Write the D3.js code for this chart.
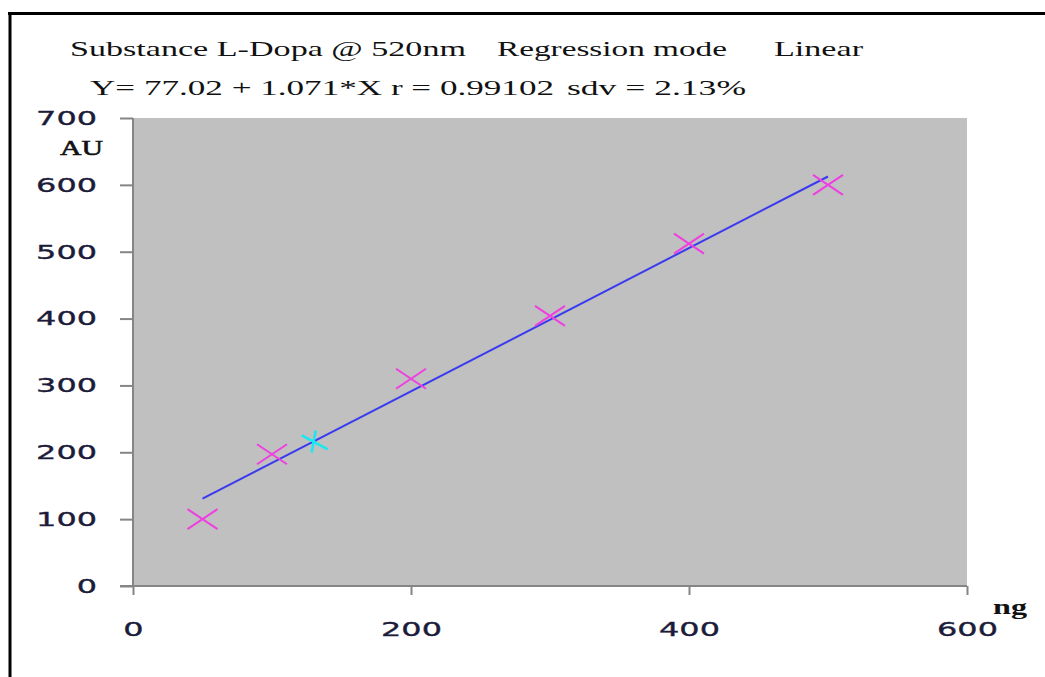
<!DOCTYPE html>
<html>
<head>
<meta charset="utf-8">
<script src="https://cdn.jsdelivr.net/npm/d3@7/dist/d3.min.js"></script>
<style>
  html, body { margin: 0; padding: 0; background: #fff; }
  svg { display: block; }
  .serif { font-family: "Liberation Serif", "DejaVu Serif", serif; fill: #111; }
  .tick text { font-family: "DejaVu Sans", Verdana, sans-serif; fill: #1c1c3a; stroke: #1c1c3a; stroke-width: 0.35; }
</style>
</head>
<body>
<svg id="chart" width="1045" height="677"></svg>
<script>
// Calibration standards: amount (ng) and response (AU)
const standardAmounts = [50, 100, 200, 300, 400, 500];
const standardResponses = [100, 197, 310, 404, 512, 600];

// Unknown sample read back through the calibration line
const sampleAmounts = [130];
const sampleResponses = [216.25];

// Linear regression reported in the header
const intercept = 77.02;
const slope = 1.071;
const fitRange = [50, 500];

const xTicks = [0, 200, 400, 600];
const yTicks = [0, 100, 200, 300, 400, 500, 600, 700];

const titleLine1 = ["Substance L-Dopa @ 520nm", "Regression mode", "Linear"];
const titleLine2 = ["Y= 77.02 + 1.071*X r = 0.99102", "sdv = 2.13%"];

const svg = d3.select("#chart");

const plot = { left: 133, right: 967, top: 118, bottom: 586 };

const x = d3.scaleLinear().domain([0, 600]).range([plot.left, plot.right]);
const y = d3.scaleLinear().domain([0, 700]).range([plot.bottom, plot.top]);

// outer frame (top and left edges)
svg.append("line").attr("x1", 8).attr("x2", 1045).attr("y1", 13.5).attr("y2", 13.5)
  .attr("stroke", "#000").attr("stroke-width", 3);
svg.append("line").attr("x1", 10).attr("x2", 10).attr("y1", 12).attr("y2", 677)
  .attr("stroke", "#000").attr("stroke-width", 3);

// header text
const titleSpec1 = [
  { x: 70, w: 396 }, { x: 497, w: 230 }, { x: 774, w: 89 }
];
titleLine1.forEach((t, i) => {
  svg.append("text").attr("class", "serif")
    .attr("x", titleSpec1[i].x).attr("y", 56)
    .attr("font-size", 22)
    .attr("textLength", titleSpec1[i].w).attr("lengthAdjust", "spacingAndGlyphs")
    .text(t);
});
const titleSpec2 = [{ x: 90, w: 464 }, { x: 567, w: 179 }];
titleLine2.forEach((t, i) => {
  svg.append("text").attr("class", "serif")
    .attr("x", titleSpec2[i].x).attr("y", 95)
    .attr("font-size", 22)
    .attr("textLength", titleSpec2[i].w).attr("lengthAdjust", "spacingAndGlyphs")
    .text(t);
});

// plot background
svg.append("rect")
  .attr("x", plot.left).attr("y", plot.top)
  .attr("width", plot.right - plot.left).attr("height", plot.bottom - plot.top)
  .attr("fill", "#c0c0c0");

// axes
const yAxis = d3.axisLeft(y).tickValues(yTicks).tickSize(13).tickPadding(23).tickFormat(d3.format("d"));
const xAxis = d3.axisBottom(x).tickValues(xTicks).tickSize(9).tickPadding(27).tickFormat(d3.format("d"));

const gy = svg.append("g").attr("transform", `translate(${plot.left},0)`).call(yAxis);
const gx = svg.append("g").attr("transform", `translate(0,${plot.bottom})`).call(xAxis);

[gx, gy].forEach(g => {
  g.select(".domain").remove();
  g.selectAll(".tick line").attr("stroke", "#858585").attr("stroke-width", 2);
  g.selectAll(".tick text")
    .attr("font-size", 20)
    .attr("textLength", d => String(d).length * 20.3)
    .attr("lengthAdjust", "spacingAndGlyphs");
});

// axis lines
svg.append("line").attr("x1", plot.left).attr("x2", plot.left)
  .attr("y1", plot.top).attr("y2", plot.bottom)
  .attr("stroke", "#858585").attr("stroke-width", 2);
svg.append("line").attr("x1", plot.left - 13).attr("x2", plot.right)
  .attr("y1", plot.bottom).attr("y2", plot.bottom)
  .attr("stroke", "#858585").attr("stroke-width", 2);

// axis unit labels
svg.append("text").attr("class", "serif")
  .attr("x", 60).attr("y", 155).attr("font-size", 22)
  .attr("stroke", "#111").attr("stroke-width", 0.6)
  .attr("textLength", 43).attr("lengthAdjust", "spacingAndGlyphs")
  .text("AU");
svg.append("text").attr("class", "serif")
  .attr("x", 993).attr("y", 614).attr("font-size", 21).attr("font-weight", "bold")
  .attr("textLength", 34).attr("lengthAdjust", "spacingAndGlyphs")
  .text("ng");

// regression line
const fitLine = d3.line().x(d => x(d)).y(d => y(intercept + slope * d));
svg.append("path")
  .attr("d", fitLine(fitRange))
  .attr("fill", "none")
  .attr("stroke", "#3a3af0")
  .attr("stroke-width", 2);

// standards as X markers
const hw = 15, hh = 10;
svg.append("g").selectAll("path")
  .data(standardAmounts.map((a, i) => [a, standardResponses[i]]))
  .join("path")
  .attr("transform", d => `translate(${x(d[0])},${y(d[1])})`)
  .attr("d", `M${-hw},${-hh}L${hw},${hh}M${-hw},${hh}L${hw},${-hh}`)
  .attr("stroke", "#ee3fe0")
  .attr("stroke-width", 2)
  .attr("fill", "none");

// unknown sample marker
svg.append("g").selectAll("path")
  .data(sampleAmounts.map((a, i) => [a, sampleResponses[i]]))
  .join("path")
  .attr("transform", d => `translate(${x(d[0])},${y(d[1])})`)
  .attr("d", "M-12,-6L14,8M2,-11L-2,11")
  .attr("stroke", "#18e8f0")
  .attr("stroke-width", 2.5)
  .attr("fill", "none");
</script>
</body>
</html>
